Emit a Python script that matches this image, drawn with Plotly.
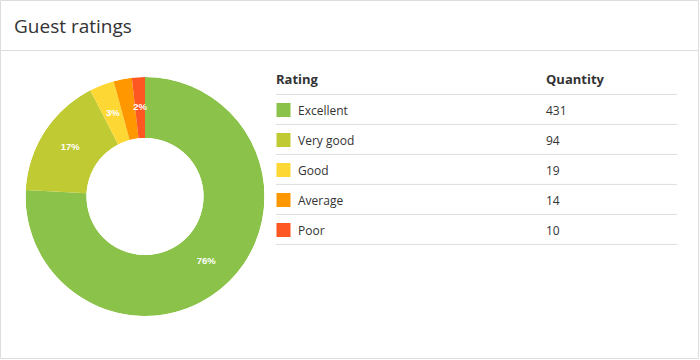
import plotly.graph_objects as go

# ---- data ----
ratings = ["Excellent", "Very good", "Good", "Average", "Poor"]
quantities = [431, 94, 19, 14, 10]
colors = ["#8BC34A", "#C0CA33", "#FDD835", "#FF9800", "#FF5722"]
show_pct = [True, True, True, False, True]
title_text = "Guest ratings"
headers = ["Rating", "Quantity"]

W, H = 700, 360
FONT = "Open Sans"
TXT = "#333333"
GRID = "#dddddd"
TEXT_DY = 0.06  # small vertical nudge so text sits centred in its row


def px(x):
    return x / W


def py(y):
    return 1 - y / H


total = sum(quantities)
spans = [q / total * 360 for q in quantities]
mids = []
acc = 0.0
for s in spans:
    mids.append(acc + s / 2)
    acc += s
pct_text = [f"{round(q / total * 100)}%" if s else "" for q, s in zip(quantities, show_pct)]

fig = go.Figure()

# donut slices (polar bars on a ring)
fig.add_trace(go.Barpolar(
    r=[1] * len(ratings),
    theta=mids,
    width=spans,
    marker=dict(color=colors, line=dict(width=0)),
    customdata=quantities,
    text=ratings,
    hovertemplate="%{text}: %{customdata}<extra></extra>",
    showlegend=False,
))
# percentage labels at mid-ring
fig.add_trace(go.Scatterpolar(
    r=[0.5] * len(ratings),
    theta=mids,
    mode="text",
    text=pct_text,
    textposition="middle center",
    textfont=dict(family="Liberation Sans, Arial", size=9.5, color="white", weight="bold"),
    hoverinfo="skip",
    showlegend=False,
))

rows = list(range(len(ratings)))
text_rows = [r + TEXT_DY for r in rows]

# table: color swatches
fig.add_trace(go.Scatter(
    x=[7.5] * len(ratings), y=rows, mode="markers",
    marker=dict(symbol="square", size=14, color=colors, line=dict(width=0)),
    xaxis="x2", yaxis="y2", showlegend=False, hoverinfo="skip",
))
# table: rating names
fig.add_trace(go.Scatter(
    x=[22] * len(ratings), y=text_rows, mode="text", text=ratings,
    textposition="middle right",
    textfont=dict(family=FONT, size=12, color=TXT),
    xaxis="x2", yaxis="y2", showlegend=False, hoverinfo="skip",
))
# table: quantities
fig.add_trace(go.Scatter(
    x=[270] * len(ratings), y=text_rows, mode="text", text=[str(q) for q in quantities],
    textposition="middle right",
    textfont=dict(family=FONT, size=12, color=TXT),
    xaxis="x2", yaxis="y2", showlegend=False, hoverinfo="skip",
))
# table: header
fig.add_trace(go.Scatter(
    x=[0, 270], y=[-1 + TEXT_DY / 2, -1 + TEXT_DY / 2], mode="text", text=headers,
    textposition="middle right",
    textfont=dict(family=FONT, size=13, color=TXT, weight="bold"),
    xaxis="x2", yaxis="y2", showlegend=False, hoverinfo="skip",
))

shapes = []
# row separator lines (header + each row)
for i in [-1] + rows:
    shapes.append(dict(type="line", xref="x2", yref="y2", x0=0, x1=401,
                       y0=i + 0.48, y1=i + 0.48, line=dict(color=GRID, width=1)))
# card border
shapes.append(dict(type="rect", xref="paper", yref="paper",
                   x0=px(0.5), x1=px(698.5), y0=py(358.5), y1=py(0.5),
                   line=dict(color=GRID, width=1)))
# header separator
shapes.append(dict(type="line", xref="paper", yref="paper",
                   x0=px(0.5), x1=px(698.5), y0=py(50.5), y1=py(50.5),
                   line=dict(color=GRID, width=1)))

fig.update_layout(
    width=W, height=H,
    margin=dict(l=0, r=0, t=0, b=0),
    paper_bgcolor="white", plot_bgcolor="white",
    font=dict(family=FONT, color=TXT),
    title=dict(text=title_text, x=px(14), xanchor="left", xref="paper",
               y=py(26), yanchor="middle", yref="paper",
               font=dict(family=FONT, size=19, color=TXT)),
    polar=dict(
        domain=dict(x=[px(25.5), px(264.5)], y=[py(316.5), py(76.5)]),
        hole=0.49,
        bgcolor="rgba(0,0,0,0)",
        bargap=0,
        radialaxis=dict(range=[0, 1], visible=False, showgrid=False, showline=False),
        angularaxis=dict(rotation=90, direction="clockwise", visible=False,
                         showgrid=False, showline=False, showticklabels=False, ticks=""),
    ),
    xaxis2=dict(domain=[px(276), px(677)], range=[0, 401], visible=False,
                anchor="y2", fixedrange=True),
    yaxis2=dict(domain=[py(245), py(65)], range=[4.5, -1.5], visible=False,
                anchor="x2", fixedrange=True),
    shapes=shapes,
)

fig.write_html("out.html", config={"displayModeBar": False},
               post_script="document.body.style.margin='0';")
